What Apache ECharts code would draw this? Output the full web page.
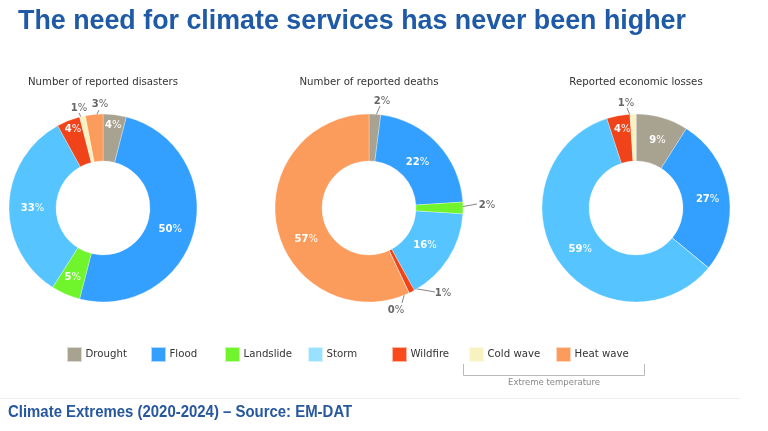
<!DOCTYPE html>
<html>
<head>
<meta charset="utf-8">
<style>html,body{margin:0;padding:0;background:#fff}#chart{width:768px;height:431px}</style>
<script src="https://cdn.jsdelivr.net/npm/echarts@6/dist/echarts.min.js"></script>
</head>
<body>
<div id="chart"></div>
<script>
const categories = ['Drought', 'Flood', 'Landslide', 'Storm', 'Wildfire', 'Cold wave', 'Heat wave'];
const colors = ['#a8a291', '#339fff', '#70f52c', '#55c4ff', '#f0431a', '#f7f2c0', '#fb9b5c'];
const legendColors = ['#a8a291', '#339fff', '#70f52c', '#99e2ff', '#fb4a1c', '#f7f2c0', '#fb9b5c'];
const legendLeft = [66, 150, 224, 307, 391, 468, 555];

const chartTitles = ['Number of reported disasters', 'Number of reported deaths', 'Reported economic losses'];
const disasters = [4, 50, 5, 33, 4, 1, 3];
const deaths = [2, 22, 2, 16, 1, 0, 57];
const losses = [9, 27, 0, 59, 4, 1, 0];

const centers = [103, 369, 636];
const hiddenNames = [[], [], ['Landslide', 'Heat wave']];

// nudges for the labels sitting on the ring
const insideNudge = [
    { Drought: [1, -10], Flood: [-4, 3], Landslide: [-1, 2], Storm: [3, 3], Wildfire: [-3, -10] },
    { Flood: [-5, 5], Storm: [-6, -2], 'Heat wave': [9, 15] },
    { Drought: [1, 3], Flood: [-1, 3], Storm: [5, 0], Wildfire: [0, -6] }
];
// labels outside the ring: label centre, then leader line start and end
const callouts = [
    {
        'Cold wave': { at: [79, 108], line: [[79, 113], [85, 125]] },
        'Heat wave': { at: [100, 104], line: [[99, 110], [93, 123]] }
    },
    {
        Drought: { at: [382, 101], line: [[380, 106], [374, 120]] },
        Landslide: { at: [487, 205], line: [[477, 204], [455, 208]] },
        Wildfire: { at: [443, 293], line: [[435, 292], [412, 288]] },
        'Cold wave': { at: [396, 310], line: [[402, 303], [405, 292]] }
    },
    {
        'Cold wave': { at: [626, 103], line: [[627, 108], [632, 120]] }
    }
];

const labelFont = 'DejaVu Sans';

function pct(color, size) {
    return {
        num: { fontFamily: labelFont, fontSize: size, fontWeight: 'bold', color: color },
        sym: { fontFamily: labelFont, fontSize: size, color: color }
    };
}

function pieData(values, i) {
    return values.map((v, k) => {
        const name = categories[k];
        const outside = !!callouts[i][name];
        const hidden = hiddenNames[i].includes(name);
        return {
            name: name,
            value: v,
            itemStyle: { color: colors[k] },
            label: {
                show: !hidden,
                position: outside ? 'outside' : 'inside',
                rich: pct(outside ? '#666' : '#fff', 10)
            },
            labelLine: { show: outside && !hidden, lineStyle: { color: '#666', width: 0.8 } }
        };
    });
}

function placeLabel(i) {
    return function (params) {
        const name = categories[params.dataIndex];
        const c = callouts[i][name];
        if (c) {
            return {
                x: c.at[0], y: c.at[1], align: 'center', verticalAlign: 'middle',
                labelLinePoints: [c.line[0], c.line[0], c.line[1]]
            };
        }
        const n = insideNudge[i][name] || [0, 0];
        return { dx: n[0], dy: n[1] };
    };
}

const series = [disasters, deaths, losses].map((values, i) => ({
    type: 'pie',
    center: [centers[i], 208],
    radius: [47, 94],
    startAngle: 90,
    minAngle: 0.05,
    silent: true,
    animation: false,
    avoidLabelOverlap: false,
    itemStyle: { borderColor: 'rgba(255,255,255,0.6)', borderWidth: 0.5 },
    label: { formatter: p => '{num|' + p.value + '}{sym|%}' },
    labelLayout: placeLabel(i),
    data: pieData(values, i)
}));

const legends = categories.map((name, k) => ({
    left: legendLeft[k],
    top: 346,
    padding: 0,
    itemWidth: 15,
    itemHeight: 15,
    selectedMode: false,
    icon: 'rect',
    itemGap: 0,
    textStyle: { fontFamily: labelFont, fontSize: 10.2, color: '#333', padding: [0, 0, 0, -1.5] },
    data: [{ name: name, itemStyle: { color: legendColors[k] } }]
}));

const titles = chartTitles.map((t, i) => ({
    text: t,
    left: centers[i],
    top: 77,
    padding: 0,
    textAlign: 'center',
    textStyle: { fontFamily: labelFont, fontSize: 10.2, fontWeight: 'normal', color: '#333' }
}));

const chart = echarts.init(document.getElementById('chart'));
chart.setOption({
    backgroundColor: '#fff',
    animation: false,
    title: titles,
    legend: legends,
    series: series,
    graphic: [
        {
            type: 'text', x: 18, y: 7, scaleX: 0.965,
            style: { text: 'The need for climate services has never been higher', fontFamily: 'Liberation Sans', fontWeight: 'bold', fontSize: 27.8, fill: '#1f5aa6' }
        },
        {
            type: 'text', x: 8, y: 404, scaleX: 0.9,
            style: { text: 'Climate Extremes (2020-2024) \u2013 Source: EM-DAT', fontFamily: 'Liberation Sans', fontWeight: 'bold', fontSize: 16.6, fill: '#26579f' }
        },
        { type: 'line', shape: { x1: 0, y1: 398.5, x2: 740, y2: 398.5 }, style: { stroke: '#eeeeee', lineWidth: 1 } },
        { type: 'polyline', shape: { points: [[463.5, 364], [463.5, 375.5], [644.5, 375.5], [644.5, 364]] }, style: { stroke: '#bbbbbb', lineWidth: 1, fill: null } },
        {
            type: 'text', x: 554, y: 378,
            style: { text: 'Extreme temperature', align: 'center', fontFamily: labelFont, fontSize: 8.5, fill: '#888' }
        }
    ]
});
window.addEventListener('resize', function () { chart.resize(); });
</script>
</body>
</html>
